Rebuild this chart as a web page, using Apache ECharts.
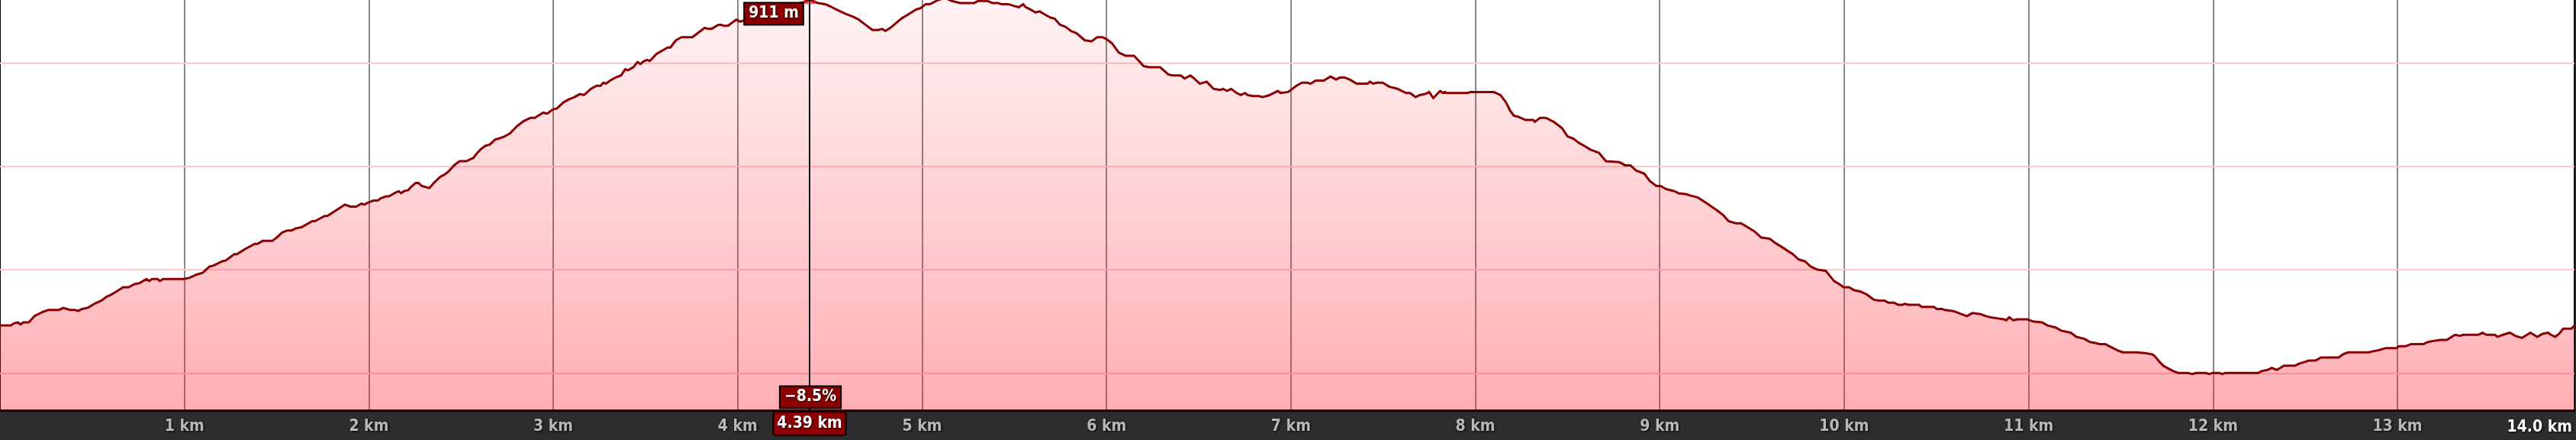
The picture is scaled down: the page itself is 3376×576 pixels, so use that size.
<!DOCTYPE html>
<html>
<head>
<meta charset="utf-8">
<script src="https://cdn.jsdelivr.net/npm/echarts@6/dist/echarts.min.js"></script>
<style>
html,body{margin:0;padding:0;background:#2d2d2d;}
#chart{width:3376px;height:576px;}
</style>
</head>
<body>
<div id="chart"></div>
<script>
// distance along the track (km)
const distKm = [
0.000,0.059,0.074,0.097,0.111,0.126,0.156,0.186,0.230,0.260,0.319,0.342,0.364,0.379,0.408,0.423,0.445,0.475,0.512,0.549,
0.579,0.594,0.624,0.668,0.698,0.728,0.757,0.794,0.809,0.824,0.854,0.866,0.884,0.995,1.025,1.062,1.099,1.136,1.158,1.203,
1.225,1.270,1.285,1.329,1.381,1.396,1.426,1.478,1.500,1.530,1.559,1.582,1.604,1.634,1.693,1.708,1.760,1.775,1.871,1.901,
1.931,1.960,1.975,1.997,2.027,2.049,2.064,2.094,2.109,2.138,2.161,2.176,2.190,2.213,2.228,2.254,2.269,2.287,2.309,2.328,
2.358,2.388,2.410,2.432,2.462,2.492,2.529,2.551,2.566,2.588,2.610,2.633,2.655,2.685,2.707,2.737,2.766,2.804,2.841,2.878,
2.900,2.945,2.967,2.997,3.019,3.056,3.086,3.115,3.145,3.167,3.204,3.234,3.257,3.271,3.286,3.308,3.338,3.368,3.390,3.405,
3.435,3.457,3.472,3.494,3.509,3.524,3.561,3.591,3.620,3.635,3.665,3.695,3.754,3.784,3.821,3.843,3.858,3.895,3.910,3.925,
3.947,3.992,4.014,4.029,4.100,4.200,4.300,4.360,4.390,4.437,4.474,4.511,4.556,4.593,4.623,4.657,
4.686,4.731,4.761,4.783,4.801,4.835,4.887,4.924,4.969,4.991,5.020,5.043,5.087,5.124,5.162,5.206,5.280,5.303,5.355,5.384,
5.414,5.429,5.466,5.503,5.525,5.548,5.562,5.585,5.615,5.637,5.666,5.696,5.718,5.748,5.778,5.808,5.837,5.882,5.919,5.949,
5.978,6.001,6.030,6.067,6.105,6.149,6.171,6.201,6.231,6.268,6.290,6.335,6.357,6.387,6.402,6.424,6.454,6.476,6.506,6.543,
6.580,6.617,6.632,6.654,6.676,6.706,6.728,6.751,6.765,6.795,6.825,6.847,6.884,6.929,6.944,6.985,
7.007,7.030,7.059,7.089,7.107,7.134,7.178,7.215,7.245,7.267,7.290,7.319,7.356,7.416,7.428,7.445,7.468,7.497,7.535,7.579,
7.624,7.646,7.676,7.698,7.728,7.750,7.772,7.787,7.809,7.824,7.835,7.846,7.958,7.973,8.099,8.136,8.166,8.188,8.210,8.233,
8.270,8.314,8.322,8.351,8.381,8.426,8.470,8.500,8.530,8.559,8.589,8.626,8.671,8.708,8.782,8.812,8.841,8.871,8.916,8.945,
8.982,9.005,9.034,9.079,9.101,9.146,9.161,9.205,9.257,9.314,
9.343,9.373,9.410,9.440,9.477,9.514,9.551,9.596,9.625,9.670,9.722,9.752,9.789,9.818,9.856,9.900,9.922,9.945,9.974,9.997,
10.026,10.056,10.086,10.123,10.160,10.190,10.219,10.242,10.271,10.294,10.316,10.331,10.346,10.405,10.420,10.487,10.502,10.531,10.546,10.591,
10.635,10.665,10.695,10.739,10.769,10.791,10.828,10.865,10.880,10.895,10.917,10.940,10.992,11.021,11.073,11.103,11.147,11.177,11.229,11.259,
11.303,11.333,11.363,11.385,11.415,11.437,11.482,11.511,11.586,11.642,
11.672,11.686,11.709,11.731,11.761,11.783,11.813,11.865,11.887,11.909,11.961,11.980,11.998,12.035,12.050,12.065,12.243,12.266,12.295,12.318,
12.347,12.384,12.444,12.466,12.503,12.518,12.555,12.585,12.681,12.704,12.733,12.845,12.867,12.897,12.934,12.993,13.008,13.045,13.075,13.142,
13.164,13.194,13.231,13.268,13.312,13.339,13.357,13.439,13.461,13.483,13.528,13.543,13.572,13.610,13.639,13.676,13.721,13.758,13.788,13.817,
13.832,13.855,13.877,13.899,13.944,13.960
];
// elevation (m)
const elevM = [
596,596,598,599,597,599,599,605,609,611,611,613,612,611,611,610,612,613,617,620,
624,625,628,633,633,636,637,641,639,641,641,639,641,641,642,645,647,653,654,658,
659,665,665,670,675,675,678,678,681,686,688,688,690,691,697,697,702,702,713,711,
711,714,713,715,717,717,719,721,721,724,726,724,726,727,730,734,734,731,730,729,
735,740,742,745,751,755,755,757,758,763,767,770,771,776,777,779,782,789,794,797,
797,802,801,805,806,812,815,817,820,819,825,828,828,831,830,833,836,838,844,843,
846,851,849,852,853,852,859,862,865,865,872,875,875,879,884,883,883,887,887,886,
886,892,890,891,895,900,906,909,911,908,907,904,900,897,895,892,
888,882,882,883,881,885,893,897,902,903,907,907,911,913,910,908,908,910,910,908,
908,907,907,905,904,907,904,902,899,900,897,894,893,887,885,881,879,872,871,875,
875,873,869,860,857,857,853,847,846,846,846,839,838,838,838,835,838,835,830,832,
825,824,825,823,825,821,819,821,819,818,818,817,819,823,821,822,
825,828,831,831,830,833,833,837,834,836,836,834,830,830,832,830,831,831,827,825,
821,821,817,819,820,822,816,819,823,821,822,821,821,822,822,819,812,804,799,798,
795,795,793,797,797,793,787,779,777,773,770,766,763,755,754,751,751,746,743,736,
731,731,728,726,724,723,722,720,714,707,
703,697,695,695,691,687,681,680,676,671,665,660,658,653,650,649,644,639,636,633,
633,630,629,626,621,620,620,618,618,616,616,617,616,616,614,614,612,612,611,610,
607,605,608,607,605,604,603,602,601,604,601,602,602,600,599,596,594,591,589,585,
583,580,579,578,578,576,572,570,570,569,
568,566,561,557,554,552,550,550,549,550,550,549,550,550,549,550,550,552,553,555,
553,557,557,559,561,562,562,565,565,568,570,570,571,572,574,574,576,576,578,578,
580,581,582,582,587,586,587,587,589,587,587,585,587,589,586,584,589,585,588,589,
587,585,588,593,593,596
];
// axis range and reference lines
const xMinKm = 0, xMaxKm = 13.96, xTickKm = 1;
const yMinM = 514, yMaxM = 911;
const elevGridM = [550, 650, 750, 850];
// cursor read-out
const cursorKm = 4.39;
const cursorElevM = 911;
const cursorGradePct = -8.5;
const totalKm = 14.0;

const FONT = "'DejaVu Sans Condensed','DejaVu Sans',sans-serif";
const boxLabel = {
  show: true,
  backgroundColor: '#8b0000',
  borderColor: '#000',
  borderWidth: 2,
  padding: [2, 5, 2, 5],
  lineHeight: 23,
  color: '#fff',
  fontSize: 21,
  fontWeight: 'bold',
  fontFamily: FONT,
  textShadowColor: 'rgba(0,0,0,0.85)',
  textShadowBlur: 2,
  textShadowOffsetX: 1,
  textShadowOffsetY: 1
};

const seriesData = distKm.map((d, i) => [d, elevM[i]]);
const fmtGrade = g => (g < 0 ? '\u2212' : '') + Math.abs(g).toFixed(1) + '%';

const chart = echarts.init(document.getElementById('chart'), null, {renderer: 'canvas'});
chart.setOption({
  animation: false,
  backgroundColor: '#2d2d2d',
  grid: {
    left: 0, right: 2, top: 0, bottom: 39,
    show: true, backgroundColor: '#ffffff', borderWidth: 0,
    outerBoundsMode: 'none', containLabel: false
  },
  xAxis: {
    type: 'value', min: xMinKm, max: xMaxKm, interval: xTickKm,
    axisLine: {show: true, onZero: false, lineStyle: {color: '#000', width: 3}},
    axisTick: {show: false},
    splitLine: {show: true, lineStyle: {color: '#888888', width: 2}},
    axisLabel: {
      show: true, margin: 11, showMaxLabel: false, showMinLabel: false,
      color: '#b8b8b8', fontSize: 21, fontWeight: 'bold', fontFamily: FONT,
      textShadowColor: 'rgba(0,0,0,0.9)', textShadowBlur: 3, textShadowOffsetX: 1, textShadowOffsetY: 1,
      formatter: v => (Number.isInteger(v) && v > 0) ? v + ' km' : ''
    },
    axisPointer: {
      show: true, value: cursorKm, status: 'show', snap: false, triggerTooltip: false, z: 4,
      type: 'line',
      lineStyle: {color: '#000', width: 2, type: 'solid'},
      label: Object.assign({}, boxLabel, {
        margin: 3, padding: [3, 4, 3, 4], lineHeight: 23,
        shadowBlur: 0, shadowColor: 'transparent',
        formatter: p => Number(p.value).toFixed(2) + ' km'
      })
    }
  },
  yAxis: [{
    type: 'value', min: yMinM, max: yMaxM, position: 'left',
    axisLine: {show: true, lineStyle: {color: '#000', width: 2}},
    axisTick: {show: false}, axisLabel: {show: false}, splitLine: {show: false}
  }, {
    type: 'value', min: yMinM, max: yMaxM, position: 'right',
    axisLine: {show: true, lineStyle: {color: '#111', width: 2}},
    axisTick: {show: false}, axisLabel: {show: false}, splitLine: {show: false}
  }],
  series: [{
    name: 'grid', type: 'line', z: 1, data: [[xMinKm, yMinM]],
    showSymbol: false, silent: true, lineStyle: {opacity: 0},
    markLine: {
      z: 1, silent: true, symbol: ['none', 'none'], animation: false,
      label: {show: false},
      lineStyle: {color: '#ffc8cc', width: 2, type: 'solid'},
      data: elevGridM.map(v => ({yAxis: v}))
    }
  }, {
    name: 'elevation', type: 'line', z: 2, data: seriesData,
    showSymbol: false, symbol: 'none', smooth: false, clip: true,
    lineStyle: {color: '#8b0000', width: 3, join: 'round'},
    areaStyle: {
      color: {
        type: 'linear', x: 0, y: 0, x2: 0, y2: 537, global: true,
        colorStops: [
          {offset: 0, color: 'rgba(255,20,35,0.05)'},
          {offset: 1, color: 'rgba(255,20,35,0.34)'}
        ]
      },
      opacity: 1
    },
    markPoint: {
      z: 6, silent: true, animation: false,
      data: [
        {coord: [cursorKm, cursorElevM], symbol: 'rect', symbolSize: [12, 8],
         itemStyle: {color: 'rgba(0,0,0,0)', borderColor: '#e8201c', borderWidth: 2},
         label: {show: false}},
        {coord: [cursorKm, cursorElevM], symbol: 'circle', symbolSize: 0,
         label: Object.assign({}, boxLabel, {position: 'inside', offset: [-47, 18], formatter: cursorElevM + ' m'})},
        {coord: [cursorKm, yMinM], symbol: 'circle', symbolSize: 0,
         label: Object.assign({}, boxLabel, {position: 'inside', offset: [1, -17], formatter: fmtGrade(cursorGradePct)})}
      ]
    }
  }],
  graphic: [{
    type: 'text', right: 5, bottom: 6, z: 10,
    style: {
      text: totalKm.toFixed(1) + ' km',
      fill: '#ffffff',
      font: "bold 21px 'DejaVu Sans Condensed','DejaVu Sans',sans-serif",
      textShadowColor: 'rgba(0,0,0,0.9)', textShadowBlur: 3, textShadowOffsetX: 1, textShadowOffsetY: 1
    }
  }]
});
</script>
</body>
</html>
